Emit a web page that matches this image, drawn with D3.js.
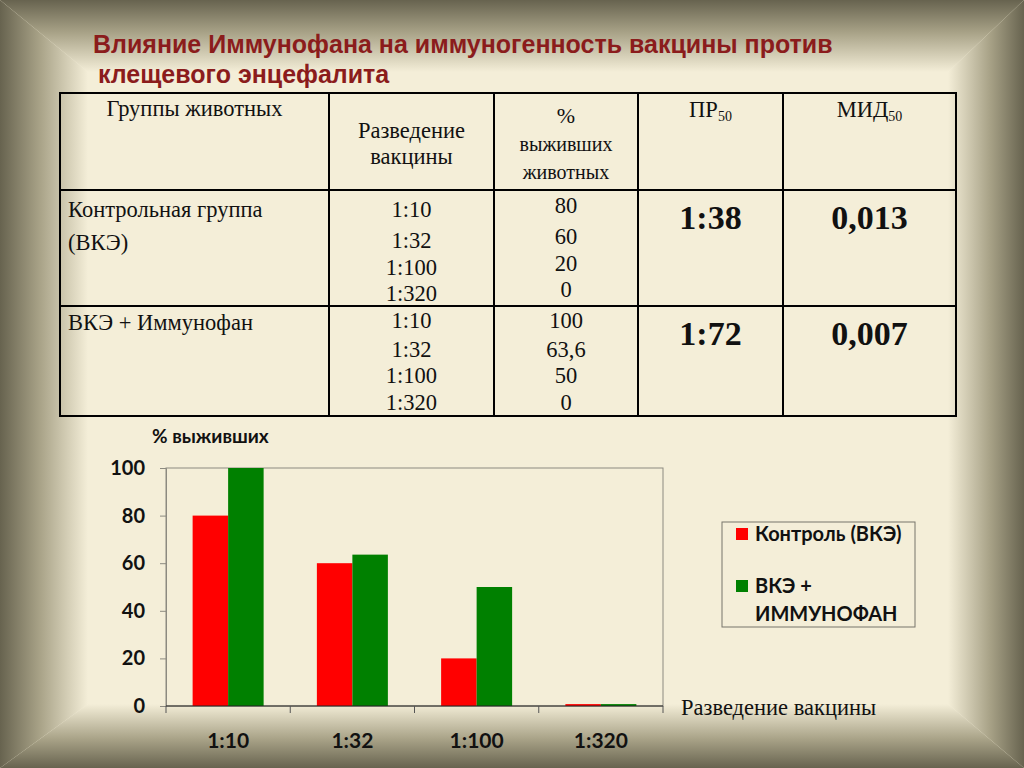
<!doctype html>
<html>
  <head>
    <meta charset="utf-8">
    <script src="https://cdnjs.cloudflare.com/ajax/libs/d3/7.8.5/d3.min.js"></script>
    <style>
      body { margin: 0; }
      svg { display: block; }
      .title { font-family: "Liberation Sans", Arial, sans-serif; font-weight: bold; font-size: 25px; fill: #8b1c1c; }
      .cell { font-family: "Liberation Serif", "Times New Roman", serif; font-size: 22.5px; fill: #111; }
      .big { font-family: "Liberation Serif", "Times New Roman", serif; font-weight: bold; font-size: 34px; fill: #111; text-anchor: middle; }
      .chart text { font-family: Lato, "Open Sans", sans-serif; font-weight: bold; fill: #111; }
    </style>
  </head>
  <body>
    <svg width="1024" height="768"></svg>
    <script>
      // table data
      var headers = ["Группы животных", "Разведение|вакцины", "%|выживших|животных", "ПР", "МИД"];
      var groups = [["Контрольная группа", "(ВКЭ)"], ["ВКЭ + Иммунофан"]];
      var dilutions = ["1:10", "1:32", "1:100", "1:320"];
      var survControl = ["80", "60", "20", "0"];
      var survImmuno = ["100", "63,6", "50", "0"];
      var pr50 = ["1:38", "1:72"];
      var mid50 = ["0,013", "0,007"];

      // chart data
      var categories = ["1:10", "1:32", "1:100", "1:320"];
      var seriesNames = ["Контроль (ВКЭ)", "ВКЭ + ИММУНОФАН"];
      var controlValues = [80, 60, 20, 0.8];
      var immunoValues = [100, 63.6, 50, 0.8];
      var yTicks = [0, 20, 40, 60, 80, 100];
      var colors = ["#ff0000", "#008000"];

      var svg = d3.select("svg");
      var defs = svg.append("defs");

      // beveled frame background
      var W = 1024, H = 768, L = 88, R = 948, T = 72, B = 704;
      var cream = "#f4eed8", dark = "#67634f";
      svg.append("rect").attr("width", W).attr("height", H).attr("fill", cream);

      var bevels = [
        { id: "gT", pts: [[0,0],[W,0],[R,T],[L,T]], x1: 0, y1: 0, x2: 0, y2: T },
        { id: "gB", pts: [[0,H],[W,H],[R,B],[L,B]], x1: 0, y1: H, x2: 0, y2: B },
        { id: "gL", pts: [[0,0],[L,T],[L,B],[0,H]], x1: 0, y1: 0, x2: L, y2: 0 },
        { id: "gR", pts: [[W,0],[R,T],[R,B],[W,H]], x1: W, y1: 0, x2: R, y2: 0 }
      ];
      bevels.forEach(b => {
        var g = defs.append("linearGradient").attr("id", b.id)
          .attr("gradientUnits", "userSpaceOnUse")
          .attr("x1", b.x1).attr("y1", b.y1).attr("x2", b.x2).attr("y2", b.y2);
        g.append("stop").attr("offset", 0).attr("stop-color", dark);
        g.append("stop").attr("offset", 0.45).attr("stop-color", "#a8a287");
        g.append("stop").attr("offset", 1).attr("stop-color", cream);
        svg.append("polygon").attr("points", b.pts.map(p => p.join(",")).join(" "))
          .attr("fill", `url(#${b.id})`);
      });

      // title
      svg.append("text").attr("class", "title").attr("x", 93).attr("y", 53)
        .text("Влияние Иммунофана на иммуногенность вакцины против");
      svg.append("text").attr("class", "title").attr("x", 98).attr("y", 83)
        .text("клещевого энцефалита");

      // table grid
      var colX = [60, 329, 494, 638, 783, 956];
      var rowY = [93, 190, 306, 416];
      var tbl = svg.append("g");
      colX.forEach(x => tbl.append("line").attr("x1", x).attr("x2", x)
        .attr("y1", rowY[0]).attr("y2", rowY[3]).attr("stroke", "#000").attr("stroke-width", 2));
      rowY.forEach(y => tbl.append("line").attr("x1", colX[0] - 1).attr("x2", colX[5] + 1)
        .attr("y1", y).attr("y2", y).attr("stroke", "#000").attr("stroke-width", 2));

      var mid = i => (colX[i] + colX[i + 1]) / 2;

      // header
      tbl.append("text").attr("class", "cell").attr("x", mid(0)).attr("y", 116)
        .attr("text-anchor", "middle").text(headers[0]);
      headers[1].split("|").forEach((t, i) => tbl.append("text").attr("class", "cell")
        .attr("x", mid(1)).attr("y", 138 + i * 26).attr("text-anchor", "middle").text(t));
      headers[2].split("|").forEach((t, i) => tbl.append("text").attr("class", "cell")
        .attr("x", mid(2)).attr("y", 123 + i * 28).attr("text-anchor", "middle")
        .style("font-size", i ? "20px" : "22px").text(t));
      [3, 4].forEach(c => {
        var t = tbl.append("text").attr("class", "cell").attr("x", mid(c)).attr("y", 117)
          .attr("text-anchor", "middle");
        t.append("tspan").text(headers[c]);
        t.append("tspan").attr("dy", 4).style("font-size", "14px").text("50");
      });

      // body rows
      var lineY = [[217, 248, 275, 301], [328, 357, 383, 410]];
      groups.forEach((g, r) => {
        g.forEach((t, i) => tbl.append("text").attr("class", "cell")
          .attr("x", 68).attr("y", [217, 330][r] + i * 33).text(t));
        dilutions.forEach((d, i) => tbl.append("text").attr("class", "cell")
          .attr("x", mid(1)).attr("y", lineY[r][i]).attr("text-anchor", "middle").text(d));
        (r ? survImmuno : survControl).forEach((d, i) => tbl.append("text").attr("class", "cell")
          .attr("x", mid(2)).attr("y", lineY[r][i] - (r ? 0 : 4)).attr("text-anchor", "middle").text(d));
        tbl.append("text").attr("class", "big").attr("x", mid(3)).attr("y", rowY[r + 1] + 39).text(pr50[r]);
        tbl.append("text").attr("class", "big").attr("x", mid(4)).attr("y", rowY[r + 1] + 39).text(mid50[r]);
      });

      // bar chart
      var chart = svg.append("g").attr("class", "chart");
      var x0 = d3.scaleBand().domain(categories).range([166, 663])
        .paddingInner(3 / 7).paddingOuter(3 / 14);
      var x1 = d3.scaleBand().domain(seriesNames).range([0, x0.bandwidth()]);
      var y = d3.scaleLinear().domain([0, 100]).range([706, 468]);

      // plot area border
      chart.append("rect").attr("x", 166).attr("y", 468).attr("width", 497).attr("height", 238)
        .attr("fill", "none").attr("stroke", "#8c8a80").attr("stroke-width", 1);

      var rows = categories.map((c, i) => ({ cat: c, vals: [controlValues[i], immunoValues[i]] }));
      chart.selectAll("g.grp").data(rows).enter().append("g").attr("class", "grp")
        .attr("transform", d => `translate(${x0(d.cat)},0)`)
        .selectAll("rect").data(d => d.vals.map((v, k) => ({ v: v, k: k }))).enter()
        .append("rect")
          .attr("x", d => x1(seriesNames[d.k]))
          .attr("width", x1.bandwidth())
          .attr("y", d => y(d.v))
          .attr("height", d => y(0) - y(d.v))
          .attr("fill", d => colors[d.k]);

      var yAxis = chart.append("g").attr("transform", "translate(166,0)")
        .call(d3.axisLeft(y).tickValues(yTicks).tickSize(6).tickPadding(15));
      yAxis.select(".domain").attr("stroke", "#8c8a80");
      yAxis.selectAll(".tick line").attr("stroke", "#8c8a80");
      yAxis.selectAll("text").style("font-size", "20px").attr("fill", "#111");

      var xAxis = chart.append("g").attr("transform", "translate(0,706)")
        .call(d3.axisBottom(x0).tickSize(0).tickPadding(27));
      xAxis.select(".domain").attr("stroke", "#222").attr("d", "M166,0H663");
      xAxis.selectAll("text").style("font-size", "21px").attr("fill", "#111");
      // category boundary ticks
      var bounds = [166].concat(categories.map(c => x0(c) + x0.bandwidth() + x0.step() * x0.paddingInner() / 2));
      xAxis.selectAll("line.bd").data(bounds).enter().append("line").attr("class", "bd")
        .attr("x1", d => d).attr("x2", d => d).attr("y1", 0).attr("y2", 7)
        .attr("stroke", "#555");

      chart.append("text").attr("x", 152).attr("y", 443).style("font-size", "19px")
        .text("% выживших");
      svg.append("text").attr("class", "cell").attr("x", 681).attr("y", 715)
        .style("font-size", "22.5px").attr("fill", "#333").text("Разведение вакцины");

      // legend
      var leg = chart.append("g");
      leg.append("rect").attr("x", 722).attr("y", 522).attr("width", 193).attr("height", 105)
        .attr("fill", "none").attr("stroke", "#77756b");
      var legLines = [["Контроль (ВКЭ)"], ["ВКЭ +", "ИММУНОФАН"]];
      legLines.forEach((ls, k) => {
        var yy = [541, 593][k];
        leg.append("rect").attr("x", 736).attr("y", yy - 13).attr("width", 12).attr("height", 12)
          .attr("fill", colors[k]);
        ls.forEach((t, j) => leg.append("text").attr("x", 755).attr("y", yy + j * 28)
          .style("font-size", "20px").text(t));
      });
    </script>
  </body>
</html>
